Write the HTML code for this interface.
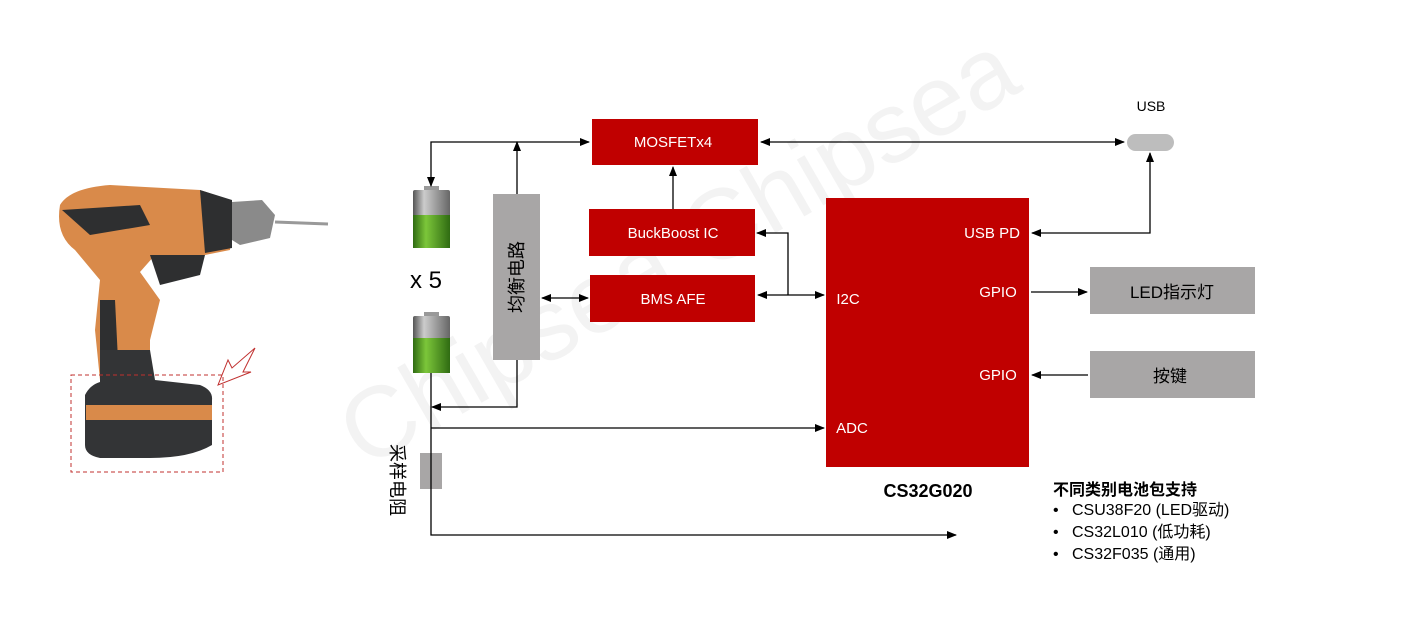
<!DOCTYPE html>
<html><head><meta charset="utf-8"><style>
body{margin:0;width:1407px;height:626px;background:#fff;overflow:hidden;font-family:"Liberation Sans","Noto Sans CJK SC",sans-serif}
</style></head><body>
<svg width="1407" height="626" viewBox="0 0 1407 626" xmlns="http://www.w3.org/2000/svg" style="position:absolute;left:0;top:0;font-family:'Liberation Sans','Noto Sans CJK SC',sans-serif">
<defs>
<marker id="a" markerWidth="10" markerHeight="10" refX="9" refY="5" orient="auto-start-reverse" markerUnits="userSpaceOnUse"><path d="M0,1 L10,5 L0,9 z" fill="#000"/></marker>
<linearGradient id="bt" x1="0" x2="1"><stop offset="0" stop-color="#555"/><stop offset="0.3" stop-color="#ccc"/><stop offset="1" stop-color="#666"/></linearGradient>
<linearGradient id="bg" x1="0" x2="1"><stop offset="0" stop-color="#2f6b12"/><stop offset="0.35" stop-color="#7cc63a"/><stop offset="1" stop-color="#2f6b12"/></linearGradient>
</defs>
<!-- watermark -->
<text x="0" y="0" font-size="100" fill="#f3f3f3" transform="translate(365 470) rotate(-30)">Chipsea Chipsea</text>
<!-- drill -->
<g>
<path d="M60,205 Q70,188 110,185 L200,190 Q215,195 230,200 L230,250 L205,255 L155,255 L140,272 L160,300 L150,340 L150,380 L100,380 L95,330 L100,280 L75,250 Q55,235 60,205z" fill="#d98a4a"/>
<path d="M62,210 L140,205 L150,225 L90,235 z" fill="#2e2f30"/>
<path d="M200,190 L232,200 L232,248 L205,253 z" fill="#2e2f30"/>
<path d="M100,300 L115,300 L118,360 L100,360z" fill="#2e2f30"/>
<path d="M150,255 L205,255 L200,275 L160,285 z" fill="#2e2f30"/>
<path d="M232,202 L262,200 L275,215 L270,238 L240,245 L232,240z" fill="#8a8a8a"/>
<line x1="275" y1="222" x2="328" y2="224" stroke="#999" stroke-width="3"/>
<path d="M100,350 L150,350 L155,380 L200,385 Q213,390 212,400 L212,445 Q190,458 150,458 L100,458 Q85,455 85,445 L85,395 Q90,385 100,382z" fill="#333436"/>
<rect x="86" y="405" width="126" height="15" fill="#d98a4a"/>
</g>
<rect x="71" y="375" width="152" height="97" fill="none" stroke="#c0302f" stroke-dasharray="4,3"/>
<path d="M218,385 L228,360 L232,368 L255,348 L243,372 L251,372 z" fill="none" stroke="#c0302f" stroke-width="1"/>
<!-- batteries -->
<g>
<rect x="424" y="186" width="15" height="5" fill="#999"/>
<rect x="413" y="190" width="37" height="58" rx="2" fill="url(#bt)"/>
<rect x="413" y="215" width="37" height="33" fill="url(#bg)"/>
<rect x="424" y="312" width="15" height="5" fill="#999"/>
<rect x="413" y="316" width="37" height="57" rx="2" fill="url(#bt)"/>
<rect x="413" y="338" width="37" height="35" fill="url(#bg)"/>
</g>
<text x="410" y="288" font-size="24" fill="#000">x 5</text>
<!-- grey boxes -->
<rect x="493" y="194" width="47" height="166" fill="#a8a6a6"/>
<text transform="translate(523 277) rotate(-90)" font-size="18" text-anchor="middle" fill="#000">均衡电路</text>
<rect x="420" y="453" width="22" height="36" fill="#a8a6a6"/>
<text transform="translate(391 480) rotate(90)" font-size="18" text-anchor="middle" fill="#000">采样电阻</text>
<rect x="1090" y="267" width="165" height="47" fill="#a8a6a6"/>
<text x="1172" y="298" font-size="17" text-anchor="middle">LED指示灯</text>
<rect x="1090" y="351" width="165" height="47" fill="#a8a6a6"/>
<text x="1170" y="382" font-size="17" text-anchor="middle">按键</text>
<rect x="1127" y="134" width="47" height="17" rx="8.5" fill="#bdbdbd"/>
<text x="1151" y="111" font-size="14" text-anchor="middle">USB</text>
<!-- red boxes -->
<g fill="#c00000">
<rect x="592" y="119" width="166" height="46"/>
<rect x="589" y="209" width="166" height="47"/>
<rect x="590" y="275" width="165" height="47"/>
<rect x="826" y="198" width="203" height="269"/>
</g>
<g fill="#fff" font-size="15" text-anchor="middle">
<text x="673" y="147">MOSFETx4</text>
<text x="673" y="238">BuckBoost IC</text>
<text x="673" y="304">BMS AFE</text>
<text x="992" y="238">USB PD</text>
<text x="998" y="297">GPIO</text>
<text x="998" y="380">GPIO</text>
<text x="848" y="304">I2C</text>
<text x="852" y="433">ADC</text>
</g>
<text x="928" y="497" font-size="18" font-weight="bold" text-anchor="middle">CS32G020</text>
<!-- lines -->
<g stroke="#000" stroke-width="1.3" fill="none">
<path d="M431,186 L431,142 L589,142" marker-start="url(#a)" marker-end="url(#a)"/>
<path d="M517,194 L517,142" marker-end="url(#a)"/>
<path d="M673,209 L673,167" marker-end="url(#a)"/>
<path d="M761,142 L1124,142" marker-start="url(#a)" marker-end="url(#a)"/>
<path d="M1150,153 L1150,233 L1032,233" marker-start="url(#a)" marker-end="url(#a)"/>
<path d="M542,298 L588,298" marker-start="url(#a)" marker-end="url(#a)"/>
<path d="M758,295 L824,295" marker-start="url(#a)" marker-end="url(#a)"/>
<path d="M788,295 L788,233 L757,233" marker-end="url(#a)"/>
<path d="M431,373 L431,535 L956,535" marker-end="url(#a)"/>
<path d="M517,360 L517,407 L432,407" marker-end="url(#a)"/>
<path d="M431,428 L824,428" marker-end="url(#a)"/>
<path d="M1031,292 L1087,292" marker-end="url(#a)"/>
<path d="M1088,375 L1032,375" marker-end="url(#a)"/>
</g>
<!-- list -->
<text x="1053" y="495" font-size="16" font-weight="bold">不同类别电池包支持</text>
<g font-size="16">
<text x="1053" y="515">•</text><text x="1072" y="515">CSU38F20 (LED驱动)</text>
<text x="1053" y="537">•</text><text x="1072" y="537">CS32L010 (低功耗)</text>
<text x="1053" y="559">•</text><text x="1072" y="559">CS32F035 (通用)</text>
</g>
</svg>
</body></html>
